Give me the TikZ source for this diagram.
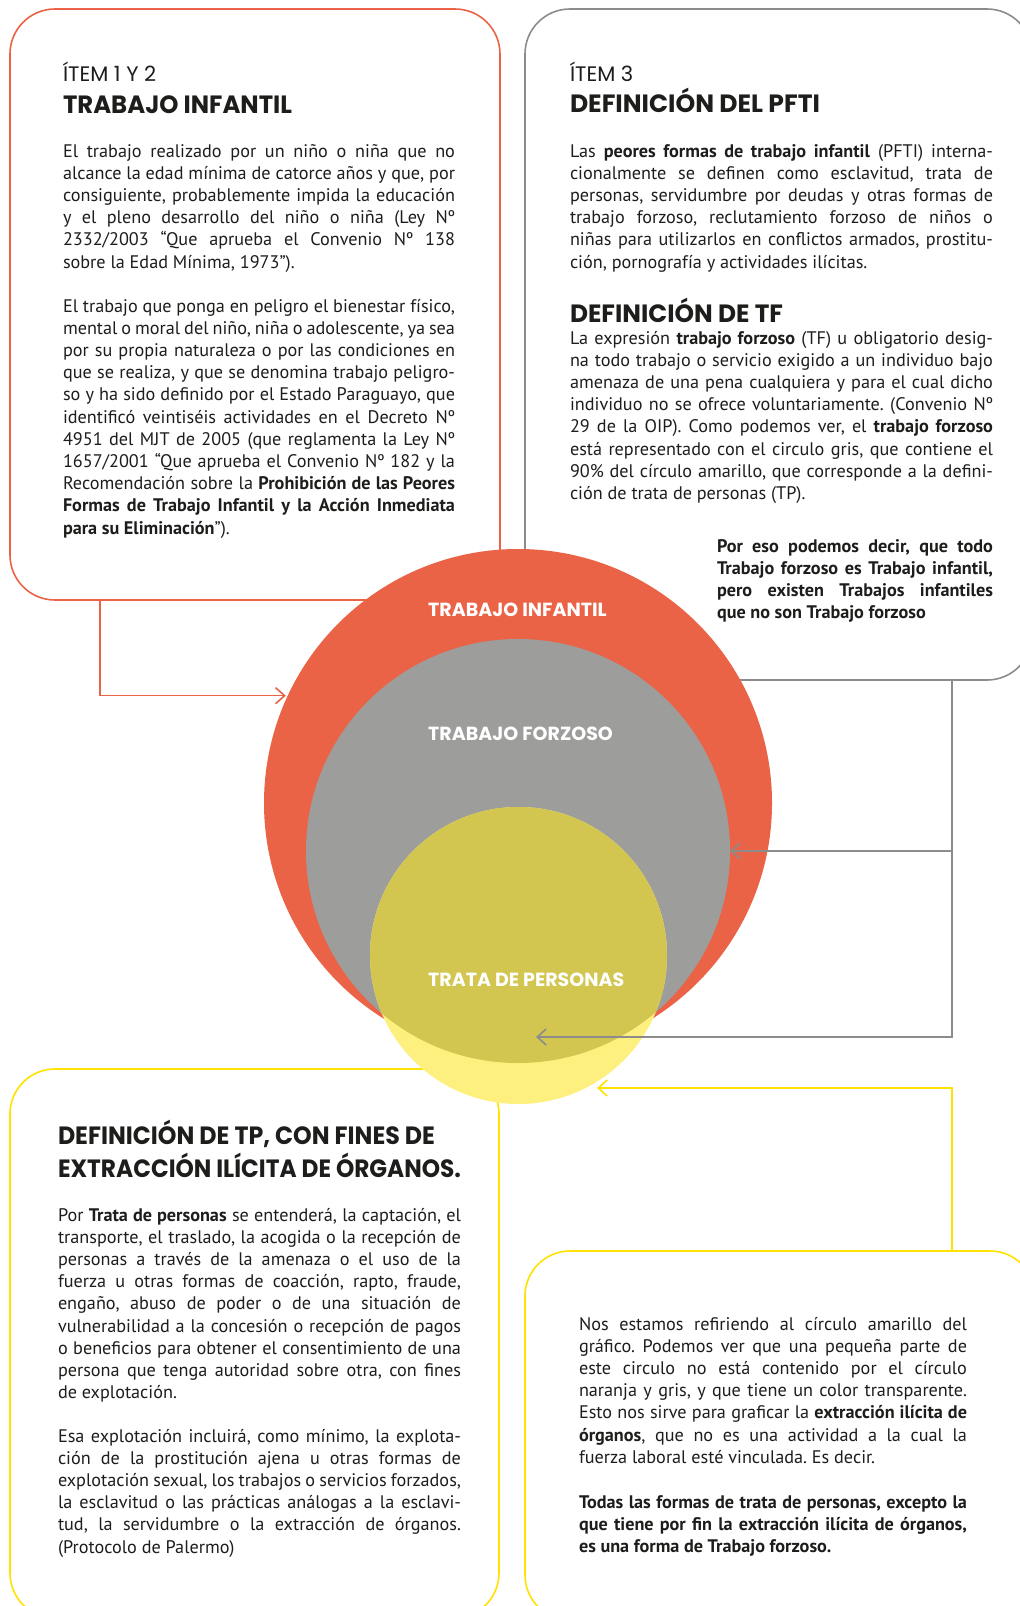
\documentclass[tikz,border=0pt]{standalone}
\usepackage{fontspec}
\setmainfont{PT Sans}
\newfontfamily\pop{Poppins}
\usetikzlibrary{arrows.meta,calc}
\definecolor{orng}{RGB}{235,99,70}
\definecolor{grayc}{RGB}{157,157,156}
\definecolor{grayl}{RGB}{140,140,140}
\definecolor{yell}{RGB}{255,226,0}
\definecolor{lyell}{RGB}{253,240,126}
\definecolor{olive}{RGB}{210,198,81}
\definecolor{ink}{RGB}{29,29,27}
\frenchspacing
\newlength\lw
\newcommand\bodyfont{\fontsize{18.2bp}{22.2bp}\selectfont}
\newcommand\para[2]{\parbox[t]{#1}{\setlength\lw{#1}\bodyfont #2}}
\newcommand\Jl[1]{\makebox[\lw][s]{#1}\par}
\newcommand\Ll[1]{#1\par}
\newcommand\headf{\pop\bfseries\fontsize{25bp}{30bp}\selectfont}
\newcommand\hd[2]{\resizebox{#1}{\height}{\headf #2}}
\newcommand\itemf{\pop\fontsize{21bp}{24bp}\selectfont}
\tikzset{
  bx/.style={draw, line width=1.6bp, rounded corners=45bp, inner sep=0pt, outer sep=0pt},
  txt/.style={anchor=base west, inner sep=0pt, outer sep=0pt, text=ink},
  lab/.style={anchor=base west, inner sep=0pt, text=white, font=\pop\bfseries\fontsize{19bp}{22bp}\selectfont},
  con/.style={line width=1.6bp, -{Straight Barb[length=9bp,width=16bp]}},
  ring/.style={circle, inner sep=0pt, outer sep=0pt}
}
\begin{document}
\begin{tikzpicture}[x=1bp,y=-1bp]
\fill[white] (0,0) rectangle (1019,1606);
\useasboundingbox (0,0) rectangle (1019,1606);
% boxes
\node[bx, draw=orng, minimum width=490bp, minimum height=591bp] (b1) at (255,304.5) {};
\node[bx, draw=grayl, minimum width=507bp, minimum height=671bp] (b2) at (778.5,344.5) {};
\node[bx, draw=yell, minimum width=489bp, minimum height=549bp] (b3) at (254.5,1343.5) {};
\node[bx, draw=yell, minimum width=510bp, minimum height=369bp] (b4) at (780,1435.5) {};
% circles
\node[ring, fill=orng, minimum size=508bp] (ti) at (518,803) {};
\node[ring, fill=grayc, minimum size=424bp] (tf) at (518,851) {};
\node[ring, fill=lyell, minimum size=297bp] (tp) at (518.5,955.5) {};
\begin{scope}
\clip (518,851) circle (212bp);
\fill[olive] (518.5,955.5) circle (148.5bp);
\end{scope}
\node[lab] (lti) at (428,616) {TRABAJO INFANTIL};
\node[lab] (ltf) at (428,740) {TRABAJO FORZOSO};
\node[lab] (ltp) at (428,986) {TRATA DE PERSONAS};
% connectors
\coordinate (ox) at ($(b1.south west)+(90,0)$);
\draw[con, orng, shorten >=2bp] (ox) |- (ti.155);
\coordinate (gx) at ($(b2.south west)+(427,0)$);
\coordinate (g1) at (536,1037);
\draw[con, grayl] (gx) |- (g1);
\draw[con, grayl] (gx |- tf.east) -- (tf.east);
\coordinate (yx) at ($(b4.north west)+(427,0)$);
\coordinate (y1) at (597,1088);
\draw[con, yell] (yx) |- (y1);
% top-left text
\node[txt, font=\itemf] (i12) at (63,81) {ÍTEM 1 Y 2};
\node[txt] (h1) at (63,113) {\hd{229bp}{TRABAJO INFANTIL}};
\node[txt] (tl1) at (63,157) {\para{392bp}{%
\Jl{El trabajo realizado por un niño o niña que no}
\Jl{alcance la edad mínima de catorce años y que, por}
\Jl{consiguiente, probablemente impida la educación}
\Jl{y el pleno desarrollo del niño o niña (Ley Nº}
\Jl{2332/2003 “Que aprueba el Convenio Nº 138}
\Ll{sobre la Edad Mínima, 1973”).}}};
\node[txt] (tl2) at (63,312) {\para{392bp}{%
\Jl{El trabajo que ponga en peligro el bienestar físico,}
\Jl{mental o moral del niño, niña o adolescente, ya sea}
\Jl{por su propia naturaleza o por las condiciones en}
\Jl{que se realiza, y que se denomina trabajo peligro-}
\Jl{so y ha sido definido por el Estado Paraguayo, que}
\Jl{identificó veintiséis actividades en el Decreto Nº}
\Jl{4951 del MJT de 2005 (que reglamenta la Ley Nº}
\Jl{1657/2001 “Que aprueba el Convenio Nº 182 y la}
\Jl{Recomendación sobre la \textbf{Prohibición de las Peores}}
\Jl{\textbf{Formas de Trabajo Infantil y la Acción Inmediata}}
\Ll{\textbf{para su Eliminación}”).}}};
% top-right text
\node[txt, font=\itemf] (i3) at (570,81) {ÍTEM 3};
\node[txt] (h2) at (570,112) {\hd{250bp}{DEFINICIÓN DEL PFTI}};
\node[txt] (tr1) at (570,157) {\para{423bp}{%
\Jl{Las \textbf{peores formas de trabajo infantil} (PFTI) interna-}
\Jl{cionalmente se definen como esclavitud, trata de}
\Jl{personas, servidumbre por deudas y otras formas de}
\Jl{trabajo forzoso, reclutamiento forzoso de niños o}
\Jl{niñas para utilizarlos en conflictos armados, prostitu-}
\Ll{ción, pornografía y actividades ilícitas.}}};
\node[txt] (h3) at (570,322) {\hd{213bp}{DEFINICIÓN DE TF}};
\node[txt] (tr2) at (570,344) {\para{423bp}{%
\Jl{La expresión \textbf{trabajo forzoso} (TF) u obligatorio desig-}
\Jl{na todo trabajo o servicio exigido a un individuo bajo}
\Jl{amenaza de una pena cualquiera y para el cual dicho}
\Jl{individuo no se ofrece voluntariamente. (Convenio Nº}
\Jl{29 de la OIP). Como podemos ver, el \textbf{trabajo forzoso}}
\Jl{está representado con el circulo gris, que contiene el}
\Jl{90\% del círculo amarillo, que corresponde a la defini-}
\Ll{ción de trata de personas (TP).}}};
\node[txt] (tr3) at (717,552) {\para{276bp}{\bfseries
\Jl{Por eso podemos decir, que todo}
\Jl{Trabajo forzoso es Trabajo infantil,}
\Jl{pero existen Trabajos infantiles}
\Ll{que no son Trabajo forzoso}}};
% bottom-left text
\node[txt] (h4) at (58,1144) {\hd{377bp}{DEFINICIÓN DE TP, CON FINES DE}};
\node[txt] (h5) at (58,1177) {\hd{403bp}{EXTRACCIÓN ILÍCITA DE ÓRGANOS.}};
\node[txt] (bl1) at (58,1221) {\para{403bp}{%
\Jl{Por \textbf{Trata de personas} se entenderá, la captación, el}
\Jl{transporte, el traslado, la acogida o la recepción de}
\Jl{personas a través de la amenaza o el uso de la}
\Jl{fuerza u otras formas de coacción, rapto, fraude,}
\Jl{engaño, abuso de poder o de una situación de}
\Jl{vulnerabilidad a la concesión o recepción de pagos}
\Jl{o beneficios para obtener el consentimiento de una}
\Jl{persona que tenga autoridad sobre otra, con fines}
\Ll{de explotación.}}};
\node[txt] (bl2) at (58,1442) {\para{403bp}{%
\Jl{Esa explotación incluirá, como mínimo, la explota-}
\Jl{ción de la prostitución ajena u otras formas de}
\Jl{explotación sexual, los trabajos o servicios forzados,}
\Jl{la esclavitud o las prácticas análogas a la esclavi-}
\Jl{tud, la servidumbre o la extracción de órganos.}
\Ll{(Protocolo de Palermo)}}};
% bottom-right text
\node[txt] (br1) at (579,1330) {\para{388bp}{%
\Jl{Nos estamos refiriendo al círculo amarillo del}
\Jl{gráfico. Podemos ver que una pequeña parte de}
\Jl{este circulo no está contenido por el círculo}
\Jl{naranja y gris, y que tiene un color transparente.}
\Jl{Esto nos sirve para graficar la \textbf{extracción ilícita de}}
\Jl{\textbf{órganos}, que no es una actividad a la cual la}
\Ll{fuerza laboral esté vinculada. Es decir.}}};
\node[txt] (br2) at (579,1508) {\para{388bp}{\bfseries
\Jl{Todas las formas de trata de personas, excepto la}
\Jl{que tiene por fin la extracción ilícita de órganos,}
\Ll{es una forma de Trabajo forzoso.}}};
\end{tikzpicture}
\end{document}
